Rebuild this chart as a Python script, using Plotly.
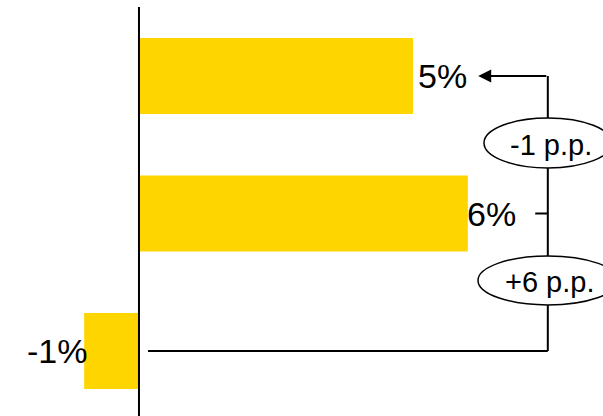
import plotly.graph_objects as go

# ---- data ----
categories = ["Row 1", "Row 2", "Row 3"]
values = [5, 6, -1]
value_labels = ["5%", "6%", "-1%"]
change_labels = ["-1 p.p.", "+6 p.p."]

# ---- style ----
BAR_COLOR = "#FFD500"
FONT = "Liberation Sans, Arial, Helvetica, sans-serif"
X_RANGE = [-2.536, 8.467]
Y_RANGE = [2.473, -0.553]
BRACKET_X = 7.46       # x position of connector line
ARROW_TIP_X = 6.19
TICK_X0 = 7.23
LINE_START_X = 0.164

ypos = list(range(len(categories)))

fig = go.Figure()
fig.add_trace(go.Bar(
    x=values, y=ypos, orientation="h",
    marker=dict(color=BAR_COLOR, line=dict(width=0)),
    width=0.553, hoverinfo="skip",
))

shapes = []
# zero axis line
shapes.append(dict(type="line", xref="x", yref="y", x0=0, x1=0, y0=-0.502, y1=Y_RANGE[0],
                   line=dict(color="black", width=2)))
# connector: from bottom bar to top bar
shapes.append(dict(type="line", xref="x", yref="y", x0=LINE_START_X, x1=BRACKET_X, y0=ypos[2], y1=ypos[2],
                   line=dict(color="black", width=2)))
shapes.append(dict(type="line", xref="x", yref="y", x0=BRACKET_X, x1=BRACKET_X, y0=ypos[0], y1=ypos[2],
                   line=dict(color="black", width=2)))
# tick at middle bar
shapes.append(dict(type="line", xref="x", yref="y", x0=TICK_X0, x1=BRACKET_X, y0=ypos[1], y1=ypos[1],
                   line=dict(color="black", width=2)))
# ellipses
ell = [((484 - 139) / 54.8, (612 - 139) / 54.8, -0.553 + 118 / 137.5, -0.553 + 168 / 137.5),
       ((478 - 139) / 54.8, (618 - 139) / 54.8, -0.553 + 256 / 137.5, -0.553 + 305 / 137.5)]
for x0, x1, y0, y1 in ell:
    shapes.append(dict(type="circle", xref="x", yref="y", x0=x0, x1=x1, y0=y0, y1=y1,
                       fillcolor="white", line=dict(color="black", width=1.5), layer="above"))

annotations = []
# value labels
annotations.append(dict(x=values[0], y=ypos[0], text=value_labels[0], xanchor="left", xshift=3,
                        showarrow=False, font=dict(size=34, color="black", family=FONT)))
annotations.append(dict(x=values[1], y=ypos[1], text=value_labels[1], xanchor="left", xshift=-3,
                        showarrow=False, font=dict(size=34, color="black", family=FONT)))
annotations.append(dict(x=values[2], y=ypos[2], text=value_labels[2], xanchor="right", xshift=5,
                        showarrow=False, font=dict(size=34, color="black", family=FONT)))
# arrow to top label
annotations.append(dict(x=ARROW_TIP_X, y=ypos[0], ax=BRACKET_X, ay=ypos[0], axref="x", ayref="y",
                        xref="x", yref="y", text="", showarrow=True, arrowhead=2, arrowsize=1.3,
                        arrowwidth=2, arrowcolor="black", standoff=0, startstandoff=0))
# change labels
for (x0, x1, y0, y1), t, dx in zip(ell, change_labels, [3, 2]):
    annotations.append(dict(x=(x0 + x1) / 2, y=(y0 + y1) / 2, text=t, showarrow=False,
                            xshift=dx, yshift=-2,
                            font=dict(size=29, color="black", family=FONT)))

fig.update_layout(
    width=603, height=416,
    margin=dict(l=0, r=0, t=0, b=0),
    paper_bgcolor="white", plot_bgcolor="white",
    showlegend=False,
    xaxis=dict(range=X_RANGE, visible=False, showgrid=False, zeroline=False, fixedrange=True),
    yaxis=dict(range=Y_RANGE, visible=False, showgrid=False, zeroline=False, fixedrange=True),
    shapes=shapes, annotations=annotations,
)
fig.write_html("out.html", config={"displayModeBar": False, "staticPlot": True},
               post_script="document.body.style.margin='0';document.body.style.overflow='hidden';")
